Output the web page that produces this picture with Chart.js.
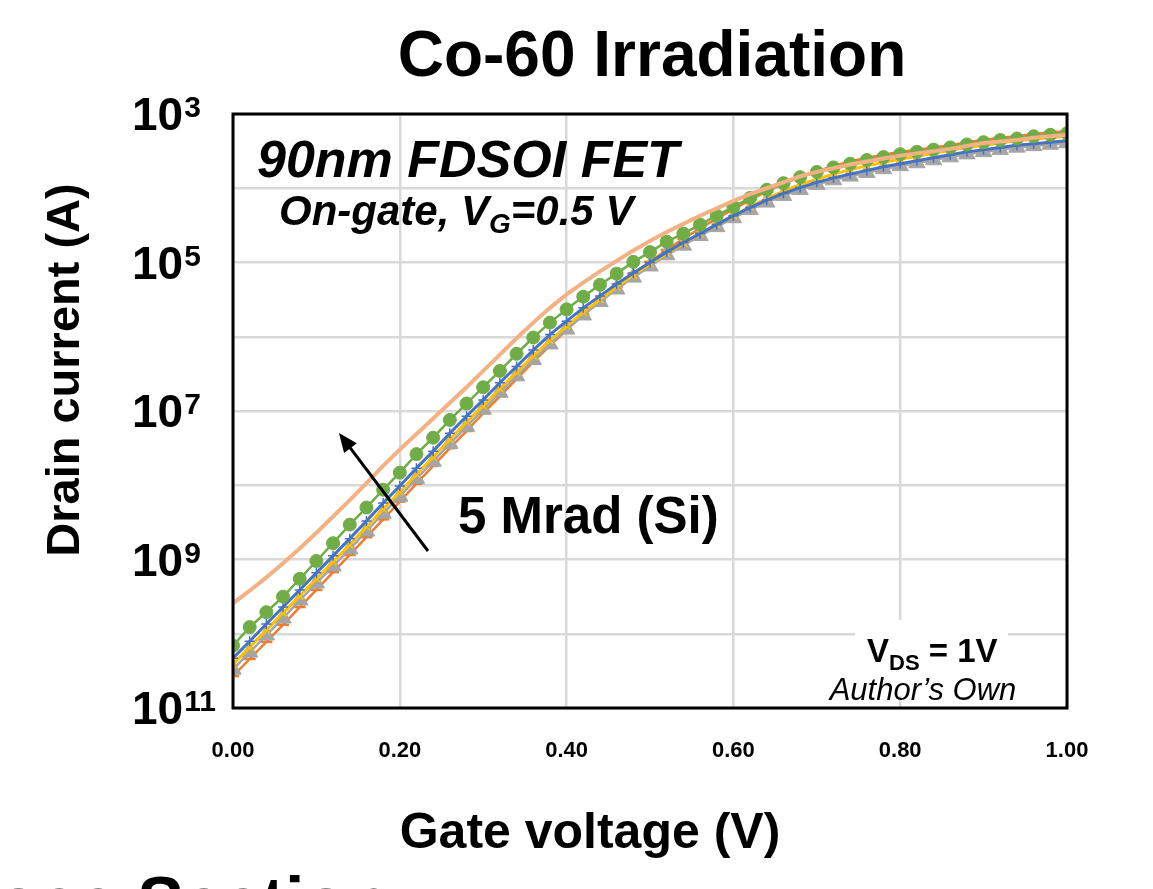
<!DOCTYPE html>
<html>
<head>
<meta charset="utf-8">
<title>Co-60 Irradiation</title>
<script src="https://cdn.jsdelivr.net/npm/chart.js@4.4.1/dist/chart.umd.min.js"></script>
<style>
  html, body { margin: 0; padding: 0; background: #fff; }
  #wrap { width: 1153px; height: 889px; overflow: hidden; }
</style>
</head>
<body>
<div id="wrap"><canvas id="chart" width="1153" height="889"></canvas></div>
<script>
// Gate voltage sweep (V)
const gateVoltage = [
  0.00, 0.02, 0.04, 0.06, 0.08, 0.10, 0.12, 0.14, 0.16, 0.18,
  0.20, 0.22, 0.24, 0.26, 0.28, 0.30, 0.32, 0.34, 0.36, 0.38,
  0.40, 0.42, 0.44, 0.46, 0.48, 0.50, 0.52, 0.54, 0.56, 0.58,
  0.60, 0.62, 0.64, 0.66, 0.68, 0.70, 0.72, 0.74, 0.76, 0.78,
  0.80, 0.82, 0.84, 0.86, 0.88, 0.90, 0.92, 0.94, 0.96, 0.98, 1.00
];

// Drain current (A), one array per dose step
const salmonCurve = [
  2.57e-10, 3.80e-10, 5.75e-10, 8.91e-10, 1.41e-9, 2.29e-9, 3.80e-9, 6.31e-9, 1.07e-8, 1.82e-8,
  3.02e-8, 4.90e-8, 7.94e-8, 1.29e-7, 2.09e-7, 3.47e-7, 5.75e-7, 9.55e-7, 1.55e-6, 2.45e-6,
  3.72e-6, 5.37e-6, 7.59e-6, 1.05e-5, 1.45e-5, 1.95e-5, 2.57e-5, 3.31e-5, 4.27e-5, 5.37e-5,
  6.76e-5, 8.32e-5, 1.00e-4, 1.20e-4, 1.45e-4, 1.66e-4, 1.86e-4, 2.09e-4, 2.29e-4, 2.51e-4,
  2.75e-4, 2.95e-4, 3.16e-4, 3.39e-4, 3.72e-4, 4.07e-4, 4.27e-4, 4.47e-4, 4.79e-4, 5.01e-4, 5.25e-4
];
const greenCurve = [
  6.92e-11, 1.23e-10, 1.95e-10, 3.16e-10, 5.50e-10, 9.55e-10, 1.66e-9, 2.95e-9, 5.01e-9, 8.71e-9,
  1.48e-8, 2.63e-8, 4.37e-8, 7.59e-8, 1.26e-7, 2.09e-7, 3.47e-7, 5.89e-7, 9.77e-7, 1.55e-6,
  2.34e-6, 3.47e-6, 5.01e-6, 7.08e-6, 1.02e-5, 1.38e-5, 1.91e-5, 2.45e-5, 3.24e-5, 4.27e-5,
  5.62e-5, 7.41e-5, 9.55e-5, 1.17e-4, 1.41e-4, 1.66e-4, 1.91e-4, 2.14e-4, 2.40e-4, 2.63e-4,
  2.88e-4, 3.09e-4, 3.31e-4, 3.55e-4, 3.89e-4, 4.17e-4, 4.47e-4, 4.68e-4, 5.01e-4, 5.25e-4, 5.50e-4
];
const blueCurve = [
  4.68e-11, 7.94e-11, 1.35e-10, 2.29e-10, 3.89e-10, 6.61e-10, 1.12e-9, 1.91e-9, 3.31e-9, 5.75e-9,
  9.77e-9, 1.70e-8, 2.88e-8, 5.01e-8, 8.51e-8, 1.41e-7, 2.40e-7, 3.98e-7, 6.61e-7, 1.07e-6,
  1.62e-6, 2.45e-6, 3.55e-6, 5.13e-6, 7.24e-6, 1.00e-5, 1.38e-5, 1.86e-5, 2.45e-5, 3.24e-5,
  4.27e-5, 5.50e-5, 6.92e-5, 8.51e-5, 1.02e-4, 1.20e-4, 1.38e-4, 1.55e-4, 1.74e-4, 1.95e-4,
  2.14e-4, 2.34e-4, 2.57e-4, 2.82e-4, 3.09e-4, 3.31e-4, 3.55e-4, 3.80e-4, 3.98e-4, 4.17e-4, 4.37e-4
];
const goldCurve = [
  3.89e-11, 6.61e-11, 1.12e-10, 1.91e-10, 3.24e-10, 5.50e-10, 9.33e-10, 1.58e-9, 2.75e-9, 4.79e-9,
  8.13e-9, 1.41e-8, 2.40e-8, 4.17e-8, 7.08e-8, 1.17e-7, 2.00e-7, 3.31e-7, 5.50e-7, 8.91e-7,
  1.38e-6, 2.14e-6, 3.16e-6, 4.68e-6, 6.76e-6, 9.55e-6, 1.32e-5, 1.82e-5, 2.45e-5, 3.24e-5,
  4.27e-5, 5.62e-5, 7.24e-5, 9.12e-5, 1.12e-4, 1.32e-4, 1.55e-4, 1.78e-4, 2.00e-4, 2.24e-4,
  2.45e-4, 2.69e-4, 2.95e-4, 3.24e-4, 3.55e-4, 3.80e-4, 4.07e-4, 4.37e-4, 4.57e-4, 4.79e-4, 5.01e-4
];
const grayCurve = [
  3.31e-11, 5.62e-11, 9.55e-11, 1.62e-10, 2.82e-10, 4.79e-10, 8.13e-10, 1.38e-9, 2.40e-9, 4.17e-9,
  7.08e-9, 1.23e-8, 2.09e-8, 3.63e-8, 6.17e-8, 1.05e-7, 1.78e-7, 2.95e-7, 4.90e-7, 7.94e-7,
  1.26e-6, 1.95e-6, 2.95e-6, 4.37e-6, 6.31e-6, 8.91e-6, 1.26e-5, 1.70e-5, 2.29e-5, 3.02e-5,
  3.98e-5, 5.13e-5, 6.46e-5, 7.94e-5, 9.55e-5, 1.12e-4, 1.29e-4, 1.45e-4, 1.62e-4, 1.82e-4,
  2.00e-4, 2.19e-4, 2.40e-4, 2.63e-4, 2.88e-4, 3.09e-4, 3.31e-4, 3.55e-4, 3.72e-4, 3.89e-4, 4.07e-4
];
const orangeCurve = [
  2.69e-11, 4.57e-11, 7.76e-11, 1.32e-10, 2.29e-10, 3.89e-10, 6.76e-10, 1.15e-9, 2.00e-9, 3.47e-9,
  6.03e-9, 1.05e-8, 1.82e-8, 3.16e-8, 5.37e-8, 9.33e-8, 1.58e-7, 2.69e-7, 4.57e-7, 7.59e-7,
  1.23e-6, 2.00e-6, 3.09e-6, 4.68e-6, 7.08e-6, 1.02e-5, 1.48e-5, 2.09e-5, 2.88e-5, 3.89e-5,
  5.25e-5, 6.92e-5, 9.12e-5, 1.15e-4, 1.41e-4, 1.70e-4, 2.00e-4, 2.29e-4, 2.57e-4, 2.82e-4,
  3.09e-4, 3.31e-4, 3.55e-4, 3.80e-4, 4.17e-4, 4.47e-4, 4.79e-4, 5.01e-4, 5.37e-4, 5.62e-4, 5.89e-4
];

// y axis: one gridline per decade, labels every other decade (shown as on the slide)
const yGridValues = [1e-11, 1e-10, 1e-9, 1e-8, 1e-7, 1e-6, 1e-5, 1e-4, 1e-3];
const yLabelValues = [1e-3, 1e-5, 1e-7, 1e-9, 1e-11];
const yLabelExponents = ["3", "5", "7", "9", "11"];

const FONT = "'Liberation Sans', Arial, sans-serif";

function drawText(ctx, txt, x, y, font, align = "left") {
  ctx.font = font;
  ctx.textAlign = align;
  ctx.fillText(txt, x, y);
  return ctx.measureText(txt).width;
}

const decorations = {
  id: "decorations",
  beforeDatasetsDraw(chart) {
    // white box behind the V_DS note
    const ctx = chart.ctx;
    ctx.save();
    ctx.fillStyle = "#fff";
    ctx.fillRect(855, 620, 153, 76);
    ctx.restore();
  },
  afterDraw(chart) {
    const { ctx, chartArea: a, scales: { x, y } } = chart;
    ctx.save();
    ctx.strokeStyle = "#000";
    ctx.lineWidth = 3;
    ctx.strokeRect(a.left, a.top, a.right - a.left, a.bottom - a.top);

    ctx.fillStyle = "#000";
    ctx.textBaseline = "alphabetic";

    x.ticks.forEach((t) => {
      drawText(ctx, t.value.toFixed(2), x.getPixelForValue(t.value), a.bottom + 49, `bold 22px ${FONT}`, "center");
    });

    yLabelValues.forEach((v, i) => {
      const py = y.getPixelForValue(v);
      const w = drawText(ctx, "10", 132, py + 16, `bold 46px ${FONT}`);
      drawText(ctx, yLabelExponents[i], 132 + w + 1, py + 3, `bold 30px ${FONT}`);
    });

    // titles
    drawText(ctx, "Co-60 Irradiation", 652, 76, `bold 64px ${FONT}`, "center");
    drawText(ctx, "Gate voltage (V)", 590, 848, `bold 50px ${FONT}`, "center");
    ctx.save();
    ctx.translate(79, 370);
    ctx.rotate(-Math.PI / 2);
    drawText(ctx, "Drain current (A)", 0, 0, `bold 47px ${FONT}`, "center");
    ctx.restore();

    // device note
    drawText(ctx, "90nm FDSOI FET", 257, 177, `italic bold 52px ${FONT}`);
    let cx = 279;
    cx += drawText(ctx, "On-gate, V", cx, 225, `italic bold 42px ${FONT}`);
    cx += drawText(ctx, "G", cx, 233, `italic bold 28px ${FONT}`);
    drawText(ctx, "=0.5 V", cx, 225, `italic bold 42px ${FONT}`);

    // dose arrow
    const x0 = 428, y0 = 551, x1 = 339, y1 = 433;
    const ang = Math.atan2(y1 - y0, x1 - x0);
    const head = 19, half = 8;
    ctx.strokeStyle = "#000";
    ctx.lineWidth = 3;
    ctx.beginPath();
    ctx.moveTo(x0, y0);
    ctx.lineTo(x1 - Math.cos(ang) * head * 0.8, y1 - Math.sin(ang) * head * 0.8);
    ctx.stroke();
    ctx.beginPath();
    ctx.moveTo(x1, y1);
    ctx.lineTo(x1 - Math.cos(ang) * head - Math.sin(ang) * half, y1 - Math.sin(ang) * head + Math.cos(ang) * half);
    ctx.lineTo(x1 - Math.cos(ang) * head + Math.sin(ang) * half, y1 - Math.sin(ang) * head - Math.cos(ang) * half);
    ctx.closePath();
    ctx.fill();
    drawText(ctx, "5 Mrad (Si)", 458, 533, `bold 51px ${FONT}`);

    // bias note
    let vx = 867;
    vx += drawText(ctx, "V", vx, 662, `bold 33px ${FONT}`);
    vx += drawText(ctx, "DS", vx, 670, `bold 22px ${FONT}`);
    drawText(ctx, " = 1V", vx, 662, `bold 33px ${FONT}`);
    drawText(ctx, "Author\u2019s Own", 923, 700, `italic 31px ${FONT}`, "center");

    // next slide heading, cut by the page edge
    drawText(ctx, "Cross Section", 390, 926, `bold 70px ${FONT}`, "right");
    ctx.restore();
  }
};

function series(data, color, extra) {
  return Object.assign({
    data,
    borderColor: color,
    backgroundColor: color,
    pointBorderColor: color,
    pointBackgroundColor: color,
    fill: false,
    tension: 0
  }, extra);
}

new Chart(document.getElementById("chart"), {
  type: "line",
  data: {
    labels: gateVoltage,
    datasets: [
      series(salmonCurve, "#F4B183", { borderWidth: 4, pointRadius: 0 }),
      series(greenCurve, "#70AD47", { borderWidth: 2.5, pointStyle: "circle", pointRadius: 6.5, pointBorderWidth: 1 }),
      series(blueCurve, "#4472C4", { borderWidth: 3, pointStyle: "cross", pointRadius: 5, pointBorderWidth: 1.5 }),
      series(goldCurve, "#FFC000", { borderWidth: 3, pointStyle: "crossRot", pointRadius: 5, pointBorderWidth: 1.5 }),
      series(grayCurve, "#A5A5A5", { borderWidth: 2.5, pointStyle: "triangle", pointRadius: 9.5, pointBorderWidth: 1 }),
      series(orangeCurve, "#ED7D31", { borderWidth: 2.5, pointStyle: "line", pointRadius: 6, pointBorderWidth: 2.5 })
    ]
  },
  options: {
    responsive: false,
    animation: false,
    events: [],
    layout: { padding: { left: 233, right: 86, top: 114, bottom: 181 } },
    plugins: { legend: { display: false }, tooltip: { enabled: false } },
    scales: {
      x: {
        type: "linear",
        min: 0,
        max: 1,
        ticks: { display: false, stepSize: 0.2 },
        grid: { color: "#d9d9d9", lineWidth: 2.5, drawTicks: false },
        border: { display: false }
      },
      y: {
        type: "logarithmic",
        min: 1e-11,
        max: 1e-3,
        afterBuildTicks: (scale) => {
          scale.ticks = yGridValues.map((v) => ({ value: v }));
        },
        ticks: { display: false },
        grid: { color: "#d9d9d9", lineWidth: 2.5, drawTicks: false },
        border: { display: false }
      }
    }
  },
  plugins: [decorations]
});
</script>
</body>
</html>
